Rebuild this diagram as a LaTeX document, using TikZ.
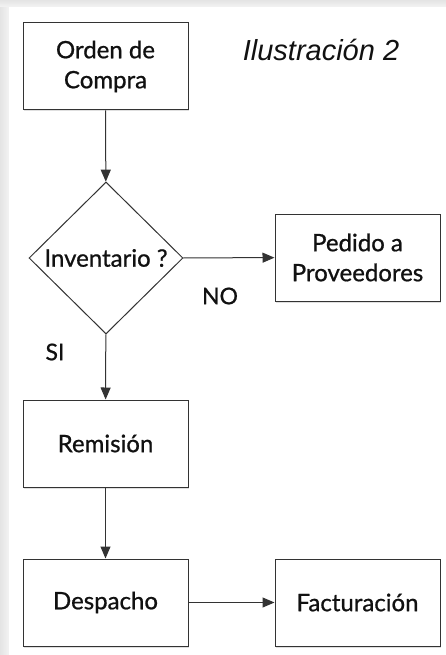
\documentclass[tikz,border=0pt]{standalone}
\usepackage{fontspec}
\usepackage{tikz}
\usetikzlibrary{arrows.meta,positioning,shapes.geometric,shadows}
\newfontfamily\boxfont{Lato}[FakeBold=0.8]
\newfontfamily\titlefont{Liberation Sans}
\definecolor{ink}{HTML}{111111}
\definecolor{edge}{HTML}{333333}
\definecolor{frame}{HTML}{E4E4E4}
\definecolor{framelight}{HTML}{F3F3F3}

\begin{document}
\begin{tikzpicture}[
  x=1pt,y=-1pt,
  every node/.style={font=\boxfont\fontsize{24}{30}\selectfont,text=ink},
  stepbox/.style={rectangle,draw=edge,fill=white,line width=1pt,minimum width=165pt,minimum height=87pt,inner sep=0pt,align=center,
    drop shadow={shadow xshift=1pt,shadow yshift=-1.5pt,opacity=0.25}},
  decision/.style={diamond,draw=edge,fill=white,line width=1pt,minimum width=154pt,minimum height=152pt,inner sep=0pt},
  line/.style={draw=edge,line width=1pt,-{Triangle[length=12pt,width=10pt]}},
  tag/.style={font=\boxfont\fontsize{23}{25}\selectfont}
]
% page
\useasboundingbox (0,0) rectangle (445,655);
\shade[left color=frame,right color=framelight] (0,0) rectangle (9,660);
\shade[top color=frame,bottom color=framelight] (0,0) rectangle (450,7);
\fill[white] (9,7) rectangle (450,660);

\node[font=\titlefont\itshape\fontsize{29}{32}\selectfont] (title) at (321,50) {Ilustración 2};

\node[stepbox] (orden) at (105.5,66.5) {Orden de\\Compra};
\node[decision] (inv) at (106,258) {Inventario ?};
\node[stepbox] (pedido) at (357.5,257.5) {Pedido a\\Proveedores};
\node[stepbox] (remision) at (105.5,443.5) {Remisión};
\node[stepbox] (despacho) at (105.5,602.5) {Despacho};
\node[stepbox] (factura) at (357.5,602.5) {Facturación};

\draw[line] (orden) -- (inv);
\draw[line] (inv) -- (pedido);
\draw[line] (inv) -- (remision);
\draw[line] (remision) -- (despacho);
\draw[line] (despacho) -- (factura);

\node[tag] (no) at (220,296) {NO};
\node[tag] (si) at (55,352) {SI};
\end{tikzpicture}
\end{document}
